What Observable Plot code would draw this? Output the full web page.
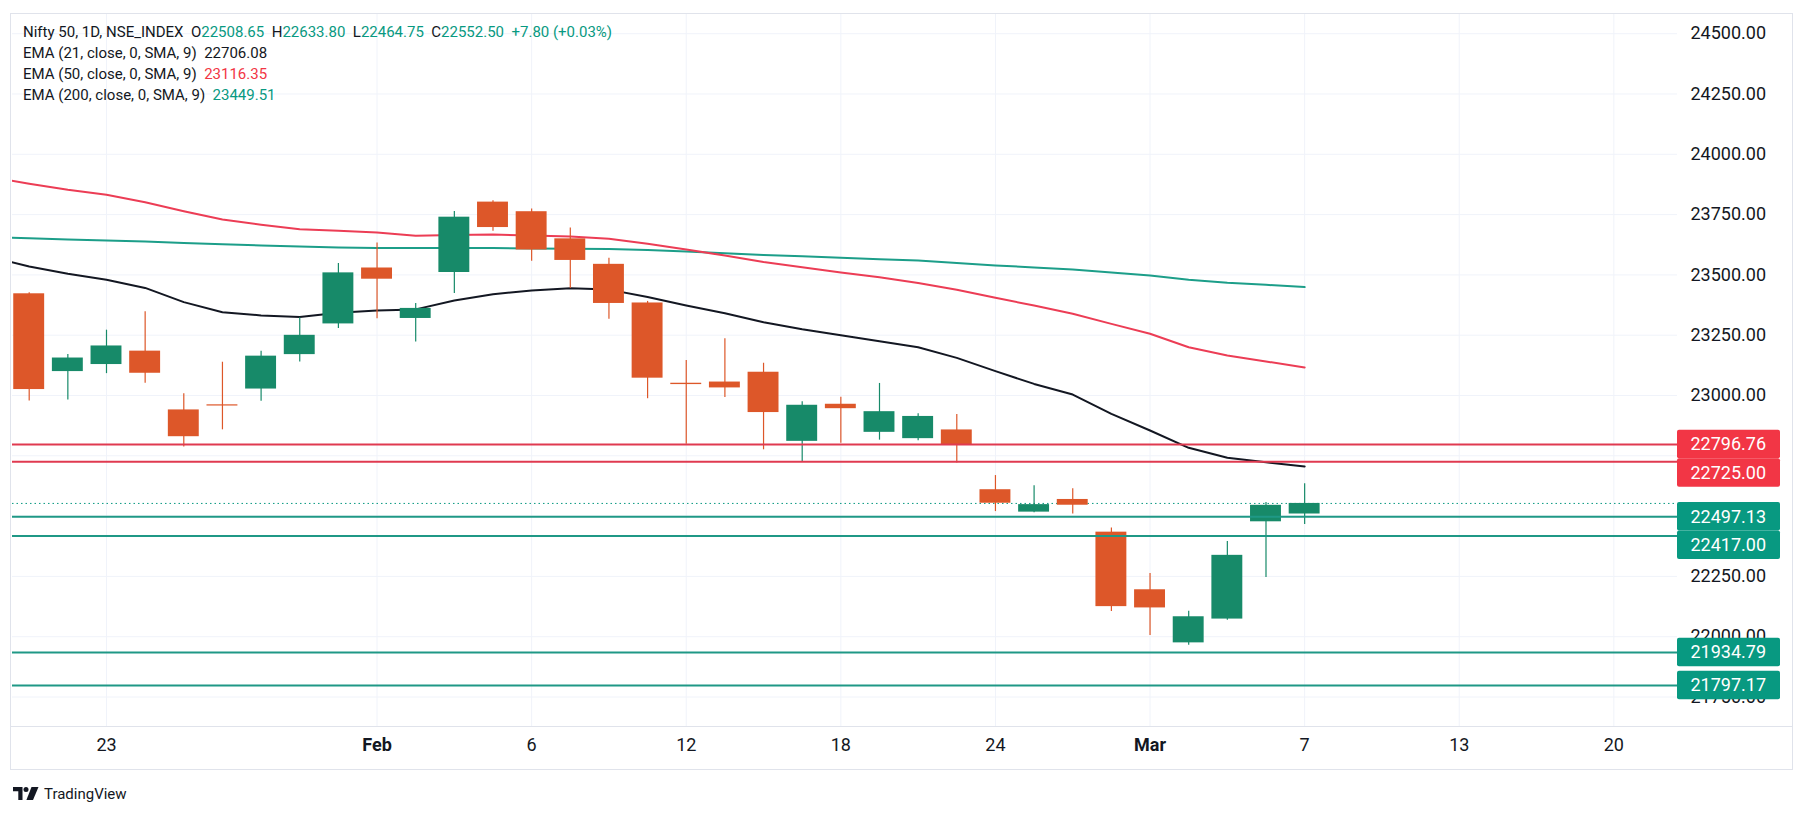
<!DOCTYPE html>
<html><head><meta charset="utf-8">
<script src="https://cdn.jsdelivr.net/npm/d3@7"></script>
<script src="https://cdn.jsdelivr.net/npm/@observablehq/plot@0.6"></script>
<style>
body{margin:0;background:#fff;font-family:Roboto,"Liberation Sans",sans-serif;}
#wrap{position:relative;width:1807px;height:815px;overflow:hidden;}
#chart{position:absolute;left:0;top:0;}
#legend{position:absolute;left:23px;top:22px;font-size:15px;line-height:21px;color:#131722;white-space:pre;}
.border{position:absolute;left:10px;top:13px;width:1783px;height:757px;border:1px solid #e0e3eb;box-sizing:border-box;pointer-events:none;}
.axisline{position:absolute;left:10px;top:726px;width:1783px;height:1px;background:#e0e3eb;}
#logo{position:absolute;left:13px;top:785px;display:flex;align-items:center;gap:5px;font-size:15px;color:#131722;}
</style></head><body>
<div id="wrap">
  <div id="chart"></div>
  <div id="legend"></div>
  <div class="border"></div>
  <div class="axisline"></div>
  <div id="logo"><svg width="26" height="14" viewBox="0 0 26 14"><path d="M0 0h9.5v13H5.3V4.2H0z" fill="#131722"/><circle cx="13" cy="2.6" r="2.5" fill="#131722"/><path d="M18.5 0h7l-5.5 13h-6.6z" fill="#131722"/></svg><span>TradingView</span></div>
</div>
<script>
// ---- data ----
const days = ["2025-01-21","2025-01-22","2025-01-23","2025-01-24","2025-01-27","2025-01-28","2025-01-29","2025-01-30","2025-01-31","2025-02-01","2025-02-03","2025-02-04","2025-02-05","2025-02-06","2025-02-07","2025-02-10","2025-02-11","2025-02-12","2025-02-13","2025-02-14","2025-02-17","2025-02-18","2025-02-19","2025-02-20","2025-02-21","2025-02-24","2025-02-25","2025-02-27","2025-02-28","2025-03-03","2025-03-04","2025-03-05","2025-03-06","2025-03-07"];
const open  = [23421.65,23099.15,23128.30,23183.90,22940.15,22960.45,23026.75,23169.50,23296.75,23528.60,23319.35,23509.90,23801.75,23761.95,23649.50,23543.80,23383.55,23050.80,23055.75,23096.45,22809.90,22963.65,22847.25,22821.10,22857.20,22609.35,22516.45,22568.95,22433.40,22194.55,21974.45,22073.05,22476.35,22508.65];
const high  = [23426.30,23169.55,23270.80,23347.30,23007.45,23137.95,23183.35,23322.05,23546.80,23632.45,23381.60,23762.75,23807.30,23773.55,23694.50,23568.60,23390.05,23144.70,23235.50,23133.70,22974.20,22992.50,23049.95,22923.85,22921.00,22668.05,22625.30,22613.30,22450.35,22261.55,22105.05,22394.90,22556.45,22633.80];
const low   = [22976.85,22981.30,23090.65,23050.75,22786.90,22857.65,22976.50,23139.20,23277.40,23318.30,23222.00,23423.15,23680.45,23556.25,23443.20,23316.30,22986.65,22798.35,22992.20,22774.85,22725.45,22801.50,22814.85,22812.75,22720.30,22518.80,22513.90,22508.40,22104.85,22004.70,21964.60,22067.80,22245.85,22464.75];
const close = [23024.65,23155.35,23205.35,23092.20,22829.15,22957.25,23163.10,23249.50,23508.40,23482.15,23361.05,23739.25,23696.30,23603.35,23559.95,23381.60,23071.80,23045.25,23031.40,22929.25,22959.50,22945.30,22932.90,22913.15,22795.90,22553.35,22547.55,22545.05,22124.70,22119.30,22082.65,22337.30,22544.70,22552.50];
const futureDays = ["2025-03-10","2025-03-11","2025-03-12","2025-03-13","2025-03-17","2025-03-18","2025-03-19","2025-03-20","2025-03-21","2025-03-24"];
const emaFirstDay = "2025-01-20";
const ema21  = [23575,23535,23505,23480,23446,23387,23345,23332,23325,23343,23352,23357,23394,23420,23435,23445,23439,23408,23373,23341,23304,23275,23250,23225,23200,23156,23101,23048,23004,22924,22855,22783,22742,22723,22706.08];
const ema50  = [23905,23878,23853,23832,23801,23764,23730,23708,23689,23683,23676,23662,23665,23667,23663,23659,23650,23629,23605,23580,23553,23532,23510,23490,23466,23438,23405,23373,23339,23297,23256,23200,23166,23141,23116.35];
const ema200 = [23657,23652,23647,23643,23638,23632,23627,23622,23618,23614,23612,23611,23612,23611,23609,23608,23607,23603,23597,23590,23582,23577,23571,23565,23560,23549,23539,23531,23522,23510,23497,23480,23467,23459,23449.51];
const emaNames = ["EMA (21, close, 0, SMA, 9)","EMA (50, close, 0, SMA, 9)","EMA (200, close, 0, SMA, 9)"];
const tickDays   = ["2025-01-23","2025-02-01","2025-02-06","2025-02-12","2025-02-18","2025-02-24","2025-03-03","2025-03-07","2025-03-13","2025-03-20"];
const tickLabels = ["23","Feb","6","12","18","24","Mar","7","13","20"];
const monthLabels = ["Feb","Mar"];
const yTicks = [21750,22000,22250,22500,22750,23000,23250,23500,23750,24000,24250,24500];
const levelValues = [22796.76,22725.00,22497.13,22417.00,21934.79,21797.17];
const levelKinds  = ["resistance","resistance","support","support","support","support"];
const symbolTitle = "Nifty 50, 1D, NSE_INDEX";

// ---- styles ----
const UP="#178a69", DOWN="#dd5729";
const RES_LINE="#e03a50", SUP_LINE="#1f9886";
const RES_BOX="#f23645", SUP_BOX="#089981";
const emaColors = ["#131722","#ec3d55","#1c9e89"];
const W=1807,H=775,ml=12,mr=130,mt=13,mb=49;
const xDomain=[-0.432,42.647], yDomain=[21627.7,24583.7];
const boxW=103, boxH=28.5;

const allDays = days.concat(futureDays);
const dayIndex = d => d === emaFirstDay ? -1 : allDays.indexOf(d);
const candles = days.map((d,i)=>({i, o:open[i], h:high[i], l:low[i], c:close[i], up: close[i]>=open[i]}));
const xs = Plot.scale({x:{domain:xDomain, range:[ml, W-mr]}});
const ys = Plot.scale({y:{domain:yDomain, range:[H-mb, mt]}});
const minBody = ys.invert(0) - ys.invert(1.2);
candles.forEach(c=>{
  const lo=Math.min(c.o,c.c), hi=Math.max(c.o,c.c);
  if (hi-lo < minBody){ const m=(hi+lo)/2; c.b1=m-minBody/2; c.b2=m+minBody/2; } else { c.b1=lo; c.b2=hi; }
});
const emaDays = [emaFirstDay].concat(days);
const emaSeries = [ema21,ema50,ema200].map((arr,k)=>arr.map((v,j)=>({i:dayIndex(emaDays[j]), v, k})));
const ticks = tickDays.map((d,j)=>({i:dayIndex(d), label:tickLabels[j], month: monthLabels.includes(tickLabels[j])}));
const levels = levelValues.map((v,j)=>({v, kind:levelKinds[j]}));
let prev=-Infinity;
const labels = levels.slice().sort((a,b)=>b.v-a.v).map(L=>{
  const py = Math.max(ys.apply(L.v), prev + boxH); prev = py;
  return {...L, py, y1: ys.invert(py-boxH/2), y2: ys.invert(py+boxH/2), yc: ys.invert(py)};
});
// a tick label fully hidden behind the price label boxes is not drawn
const inBox = p => labels.some(L=>p >= L.py-boxH/2 && p <= L.py+boxH/2);
const shownTicks = yTicks.filter(t=>{ const p=ys.apply(t); return !(inBox(p-7) && inBox(p+7)); });
const bx1 = xs.invert(W-mr), bx2 = xs.invert(W-mr+boxW);
const last = close.length-1;

const font = "Roboto, 'Liberation Sans', sans-serif";
const chart = Plot.plot({
  width:W, height:H, marginLeft:ml, marginRight:mr, marginTop:mt, marginBottom:mb,
  x:{domain:xDomain, axis:null}, y:{domain:yDomain, axis:null},
  style:{fontFamily:font, fontSize:"18px", color:"#131722", background:"transparent", overflow:"visible"},
  marks:[
    Plot.ruleY(yTicks,{stroke:"#f0f3fa", strokeWidth:1}),
    Plot.ruleX(ticks,{x:"i", stroke:"#f0f3fa", strokeWidth:1}),
    Plot.ruleY([close[last]],{stroke:SUP_BOX, strokeDasharray:"1.5,3", strokeWidth:1}),
    Plot.line(emaSeries[2],{x:"i", y:"v", stroke:emaColors[2], strokeWidth:2, clip:true}),
    Plot.line(emaSeries[1],{x:"i", y:"v", stroke:emaColors[1], strokeWidth:2, clip:true}),
    Plot.line(emaSeries[0],{x:"i", y:"v", stroke:emaColors[0], strokeWidth:2, clip:true}),
    Plot.ruleX(candles,{x:"i", y1:"l", y2:"h", stroke:d=>d.up?UP:DOWN, strokeWidth:1.2}),
    Plot.rect(candles,{x1:d=>d.i-0.4, x2:d=>d.i+0.4, y1:"b1", y2:"b2", fill:d=>d.up?UP:DOWN}),
    Plot.ruleY(levels,{y:"v", stroke:d=>d.kind==="resistance"?RES_LINE:SUP_LINE, strokeWidth:2}),
    Plot.text(shownTicks,{y:d=>d, text:d=>d.toFixed(2), frameAnchor:"right", textAnchor:"start", dx:13, fill:"#131722", fontSize:18}),
    Plot.rect(labels,{x1:bx1, x2:bx2, y1:"y1", y2:"y2", fill:d=>d.kind==="resistance"?RES_BOX:SUP_BOX, rx:2}),
    Plot.text(labels,{y:"yc", text:d=>d.v.toFixed(2), frameAnchor:"right", textAnchor:"start", dx:13, fill:"white", fontSize:18}),
    Plot.text(ticks.filter(t=>!t.month),{x:"i", text:"label", frameAnchor:"bottom", dy:24, fill:"#131722", fontSize:18}),
    Plot.text(ticks.filter(t=>t.month),{x:"i", text:"label", frameAnchor:"bottom", dy:24, fill:"#131722", fontSize:18, fontWeight:"bold"})
  ]
});
document.getElementById("chart").appendChild(chart);

// legend
const G="#089981";
const f2 = v=>v.toFixed(2);
const chg = close[last]-close[last-1], pct = chg/close[last-1]*100;
const sg = v=>(v>=0?"+":"")+v.toFixed(2);
const sp = (t,c)=>`<span style="color:${c}">${t}</span>`;
let html = `${symbolTitle}  O${sp(f2(open[last]),G)}  H${sp(f2(high[last]),G)}  L${sp(f2(low[last]),G)}  C${sp(f2(close[last]),G)}  ${sp(sg(chg)+" ("+sg(pct)+"%)",G)}\n`;
const emaArr=[ema21,ema50,ema200];
const emaLegendColors=["#131722","#f23645","#089981"];
html += emaNames.map((n,k)=>`${n}  ${sp(f2(emaArr[k][emaArr[k].length-1]),emaLegendColors[k])}`).join("\n");
document.getElementById("legend").innerHTML = html;
</script>
</body></html>
